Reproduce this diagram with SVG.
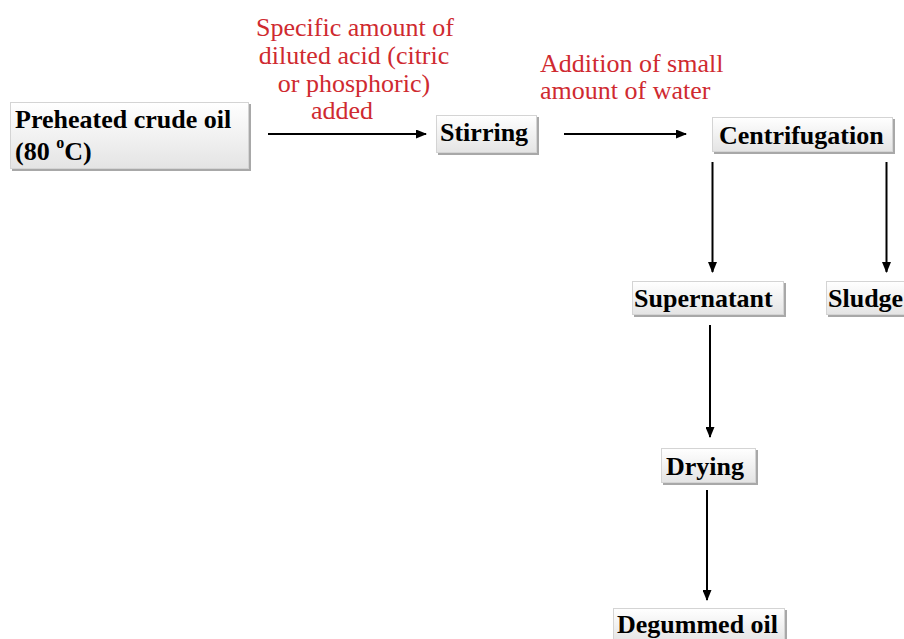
<svg xmlns="http://www.w3.org/2000/svg" width="904" height="639" viewBox="0 0 904 639">
<defs>
<linearGradient id="boxg" x1="0" y1="0" x2="0" y2="1">
<stop offset="0" stop-color="#ffffff"/>
<stop offset="1" stop-color="#e4e4e4"/>
</linearGradient>
<marker id="ah" markerWidth="11" markerHeight="9" refX="10" refY="4.5" orient="auto" markerUnits="userSpaceOnUse">
<path d="M0,0 L11,4.5 L0,9 Z" fill="#000"/>
</marker>
</defs>
<style>
.shadow{fill:#a8a8a8;}
.box{fill:url(#boxg);stroke:#d4d4d4;stroke-width:1;}
.lbl{font-family:"Liberation Serif","Times New Roman",serif;font-weight:bold;font-size:26px;fill:#000;}
.note{font-family:"Liberation Serif","Times New Roman",serif;font-size:26px;fill:#cf2a30;}
.conn{stroke:#000;stroke-width:2;fill:none;marker-end:url(#ah);}
</style>
<rect width="904" height="639" fill="#fff"/>

<g id="connectors">
<line class="conn" x1="268" y1="134" x2="426" y2="134"/>
<line class="conn" x1="564" y1="134" x2="686" y2="134"/>
<line class="conn" x1="712.5" y1="162" x2="712.5" y2="272"/>
<line class="conn" x1="886.5" y1="162" x2="886.5" y2="272"/>
<line class="conn" x1="710" y1="325" x2="710" y2="437"/>
<line class="conn" x1="707" y1="490" x2="707" y2="600"/>
</g>

<g id="note-acid">
<text class="note" text-anchor="middle"><tspan x="355" y="36">Specific amount of</tspan><tspan x="354" y="64">diluted acid (citric</tspan><tspan x="354" y="92">or phosphoric)</tspan><tspan x="342" y="119">added</tspan></text>
</g>
<g id="note-water">
<text class="note"><tspan x="540" y="72">Addition of small</tspan><tspan x="540" y="99">amount of water</tspan></text>
</g>

<g id="preheated">
<rect class="shadow" x="12" y="104" width="239" height="67"/>
<rect class="box" x="10.5" y="102.5" width="238" height="66"/>
<text class="lbl"><tspan x="15" y="128">Preheated crude oil</tspan><tspan x="15" y="160">(80 </tspan><tspan font-size="16" dy="-12">o</tspan><tspan dy="12">C)</tspan></text>
</g>

<g id="stirring">
<rect class="shadow" x="438" y="117" width="101" height="38"/>
<rect class="box" x="436.5" y="115.5" width="100" height="37"/>
<text class="lbl" x="440" y="141">Stirring</text>
</g>

<g id="centrifugation">
<rect class="shadow" x="714" y="119" width="181" height="35"/>
<rect class="box" x="712.5" y="117.5" width="180" height="34"/>
<text class="lbl" x="719" y="144">Centrifugation</text>
</g>

<g id="supernatant">
<rect class="shadow" x="634" y="283" width="152" height="34"/>
<rect class="box" x="632.5" y="281.5" width="151" height="33"/>
<text class="lbl" x="634" y="307">Supernatant</text>
</g>

<g id="sludge">
<rect class="shadow" x="828" y="283" width="90" height="34"/>
<rect class="box" x="826.5" y="281.5" width="90" height="33"/>
<text class="lbl" x="828" y="307">Sludge</text>
</g>

<g id="drying">
<rect class="shadow" x="663" y="450" width="95" height="35"/>
<rect class="box" x="661.5" y="448.5" width="94" height="34"/>
<text class="lbl" x="666" y="475">Drying</text>
</g>

<g id="degummed">
<rect class="shadow" x="615" y="610" width="172" height="35"/>
<rect class="box" x="613.5" y="608.5" width="171" height="34"/>
<text class="lbl" x="617" y="633">Degummed oil</text>
</g>
</svg>
